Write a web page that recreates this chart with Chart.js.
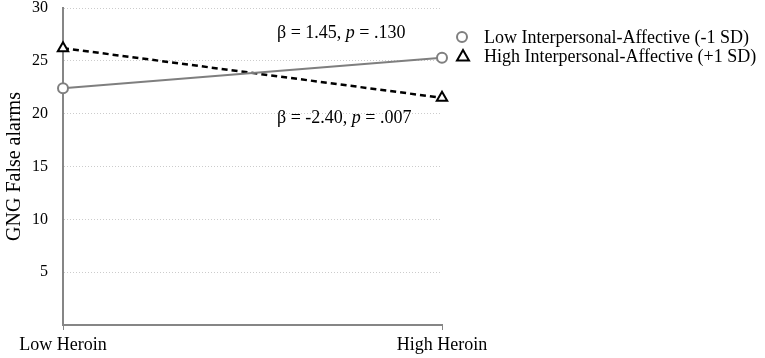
<!DOCTYPE html>
<html>
<head>
<meta charset="utf-8">
<script src="https://cdn.jsdelivr.net/npm/chart.js@4/dist/chart.umd.min.js"></script>
<style>
  html, body { margin: 0; padding: 0; background: #fff; overflow: hidden; }
  canvas { display: block; }
</style>
</head>
<body>
<canvas id="myChart" width="765" height="358"></canvas>
<script>
const categories = ["Low Heroin", "High Heroin"];
const lowIA = [22.4, 25.3];
const highIA = [26.2, 21.5];
const seriesNames = ["Low Interpersonal-Affective (-1 SD)", "High Interpersonal-Affective (+1 SD)"];
const annotations = [
  ["β = 1.45, ", "p", " = .130"],
  ["β = -2.40, ", "p", " = .007"]
];

const serif = "'Liberation Serif', 'Times New Roman', serif";
const grayLine = "#7f7f7f";

function drawMarker(ctx, kind, x, y, color) {
  ctx.save();
  ctx.lineWidth = 2;
  ctx.strokeStyle = color;
  ctx.fillStyle = "#fff";
  ctx.beginPath();
  if (kind === "circle") {
    ctx.arc(x, y, 5, 0, Math.PI * 2);
  } else {
    ctx.moveTo(x, y - 6);
    ctx.lineTo(x + 6, y + 4.5);
    ctx.lineTo(x - 6, y + 4.5);
    ctx.closePath();
  }
  ctx.fill();
  ctx.stroke();
  ctx.restore();
}

// legend + beta labels
const extras = {
  id: "extras",
  afterDraw(chart) {
    const ctx = chart.ctx;
    ctx.save();
    ctx.font = "18px " + serif;
    ctx.fillStyle = "#000";
    ctx.textBaseline = "middle";
    drawMarker(ctx, "circle", 462, 37, grayLine);
    drawMarker(ctx, "triangle", 463, 56, "#000");
    ctx.fillText(seriesNames[0], 484, 38);
    ctx.fillText(seriesNames[1], 484, 57);

    const spots = [[277, 33], [277, 118]];
    annotations.forEach((parts, i) => {
      let x = spots[i][0];
      parts.forEach((p, j) => {
        ctx.font = (j === 1 ? "italic " : "") + "18px " + serif;
        ctx.fillText(p, x, spots[i][1]);
        x += ctx.measureText(p).width;
      });
    });
    ctx.restore();
  }
};

new Chart("myChart", {
  type: "line",
  data: {
    labels: categories,
    datasets: [
      {
        label: seriesNames[0],
        data: lowIA,
        borderColor: grayLine,
        borderWidth: 2,
        pointStyle: "circle",
        pointRadius: 5,
        pointBorderWidth: 2,
        pointBorderColor: grayLine,
        pointBackgroundColor: "#fff"
      },
      {
        label: seriesNames[1],
        data: highIA,
        borderColor: "#000",
        borderWidth: 2.5,
        borderDash: [6, 4],
        pointStyle: "triangle",
        pointRadius: 6,
        pointBorderWidth: 2,
        pointBorderColor: "#000",
        pointBackgroundColor: "#fff"
      }
    ]
  },
  options: {
    responsive: false,
    animation: false,
    devicePixelRatio: 1,
    layout: { padding: { left: 3, right: 323, top: 7, bottom: 0 } },
    plugins: {
      legend: { display: false },
      tooltip: { enabled: false }
    },
    scales: {
      x: {
        offset: false,
        grid: {
          drawOnChartArea: false,
          drawTicks: true,
          tickLength: 5,
          color: "#868686"
        },
        border: { color: "#868686", width: 2 },
        ticks: {
          color: "#000",
          padding: 4,
          maxRotation: 0,
          font: { family: serif, size: 18 }
        },
        afterFit: (scale) => { scale.height = 33; }
      },
      y: {
        min: 0,
        max: 30,
        ticks: {
          stepSize: 5,
          color: "#000",
          padding: 15,
          font: { family: serif, size: 16 },
          callback: (v) => (v === 0 ? "" : v)
        },
        grid: {
          drawTicks: false,
          color: (c) => (c.tick && c.tick.value === 0 ? "rgba(0,0,0,0)" : "#cccccc"),
          lineWidth: 1
        },
        border: { color: "#868686", width: 2, dash: [1, 2] },
        title: {
          display: true,
          text: "GNG False alarms",
          color: "#000",
          padding: 0,
          font: { family: serif, size: 20 }
        },
        afterFit: (scale) => {
          scale.width = 60;
          scale.paddingTop = 0;
          scale.paddingBottom = 0;
        }
      }
    }
  },
  plugins: [extras]
});
</script>
</body>
</html>
